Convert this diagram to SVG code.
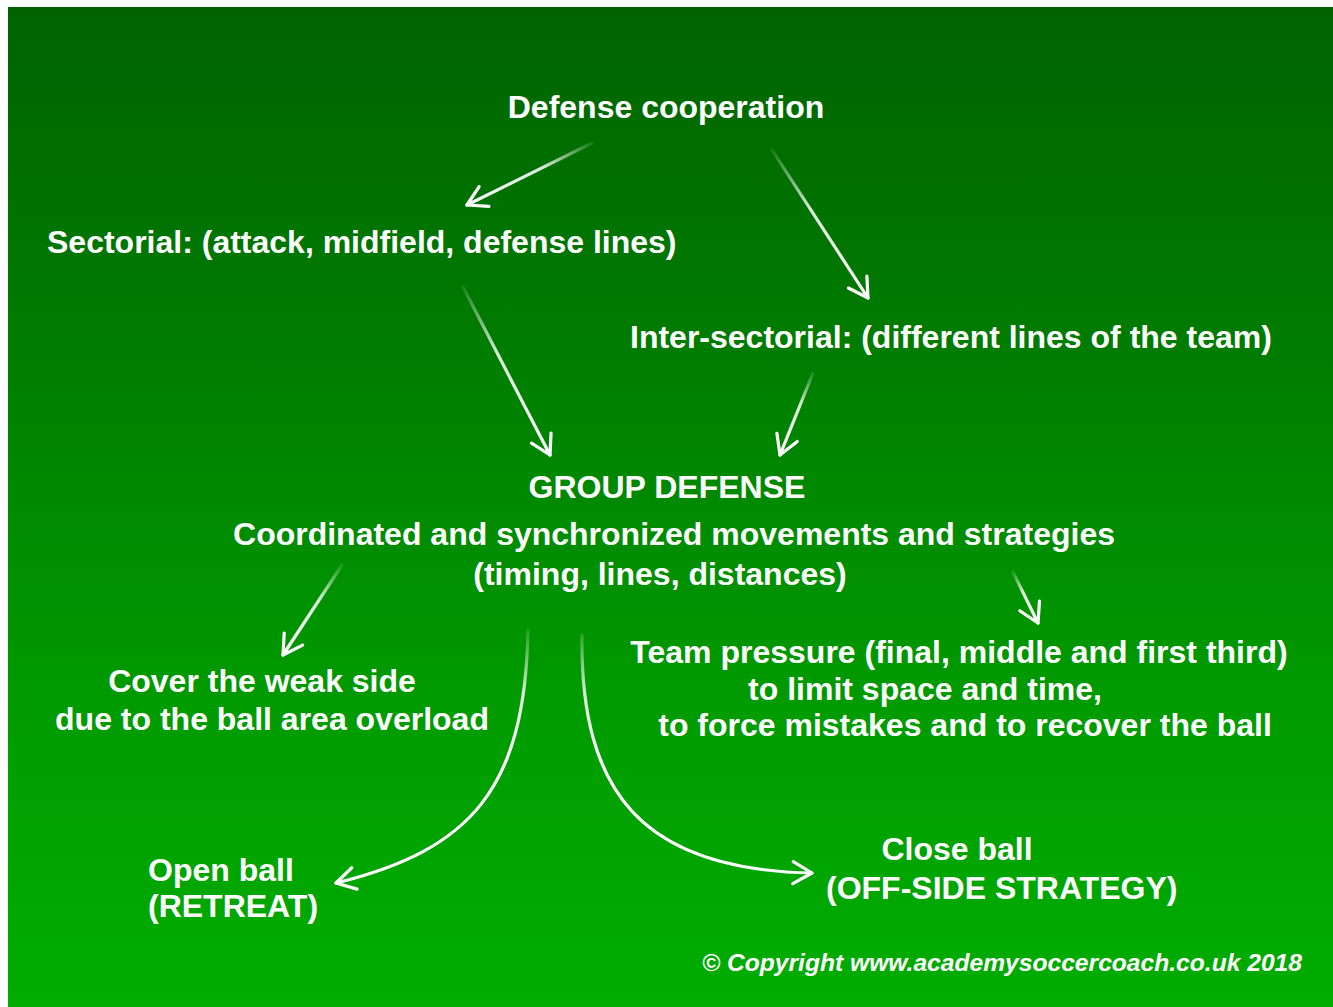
<svg xmlns="http://www.w3.org/2000/svg" width="1333" height="1007" viewBox="0 0 1333 1007">
<style>
.t{font-family:"Liberation Sans",Arial,sans-serif;font-weight:bold;font-size:32px;fill:#fff}
.m{text-anchor:middle}
.c{font-family:"Liberation Sans Narrow","Liberation Sans",Arial,sans-serif;font-weight:bold;font-style:italic;font-size:23px;fill:#fff}
.a{fill:none;stroke-width:3.2;stroke-linecap:round}
</style>
<defs>
<linearGradient id="bg" x1="0" y1="0" x2="0" y2="1">
<stop offset="0" stop-color="#006300"/>
<stop offset="0.35" stop-color="#007d00"/>
<stop offset="0.7" stop-color="#009b00"/>
<stop offset="1" stop-color="#00ad00"/>
</linearGradient>
<marker id="ah" markerUnits="userSpaceOnUse" markerWidth="30" markerHeight="30" viewBox="-24 -15 28 30" refX="0" refY="0" orient="auto">
<path d="M-19,-11 L0,0 L-19,11" fill="none" stroke="#fff" stroke-width="3.2" stroke-linecap="round" stroke-linejoin="round"/>
</marker>
<linearGradient id="g1" gradientUnits="userSpaceOnUse" x1="592" y1="143" x2="467" y2="205"><stop offset="0" stop-color="#fff" stop-opacity="0.1"/><stop offset="0.4" stop-color="#fff" stop-opacity="0.85"/><stop offset="1" stop-color="#fff"/></linearGradient>
<linearGradient id="g2" gradientUnits="userSpaceOnUse" x1="772" y1="150" x2="868" y2="298"><stop offset="0" stop-color="#fff" stop-opacity="0.1"/><stop offset="0.4" stop-color="#fff" stop-opacity="0.85"/><stop offset="1" stop-color="#fff"/></linearGradient>
<linearGradient id="g3" gradientUnits="userSpaceOnUse" x1="463" y1="287" x2="550" y2="455"><stop offset="0" stop-color="#fff" stop-opacity="0.1"/><stop offset="0.4" stop-color="#fff" stop-opacity="0.85"/><stop offset="1" stop-color="#fff"/></linearGradient>
<linearGradient id="g4" gradientUnits="userSpaceOnUse" x1="813" y1="373" x2="780" y2="455"><stop offset="0" stop-color="#fff" stop-opacity="0.1"/><stop offset="0.4" stop-color="#fff" stop-opacity="0.85"/><stop offset="1" stop-color="#fff"/></linearGradient>
<linearGradient id="g5" gradientUnits="userSpaceOnUse" x1="342" y1="565" x2="283" y2="655"><stop offset="0" stop-color="#fff" stop-opacity="0.1"/><stop offset="0.4" stop-color="#fff" stop-opacity="0.85"/><stop offset="1" stop-color="#fff"/></linearGradient>
<linearGradient id="g6" gradientUnits="userSpaceOnUse" x1="1013" y1="572" x2="1038" y2="623"><stop offset="0" stop-color="#fff" stop-opacity="0.1"/><stop offset="0.4" stop-color="#fff" stop-opacity="0.85"/><stop offset="1" stop-color="#fff"/></linearGradient>
<linearGradient id="g7" gradientUnits="userSpaceOnUse" x1="0" y1="628" x2="0" y2="760"><stop offset="0" stop-color="#fff" stop-opacity="0.1"/><stop offset="0.5" stop-color="#fff" stop-opacity="0.85"/><stop offset="1" stop-color="#fff"/></linearGradient>
</defs>
<rect x="0" y="0" width="1333" height="1007" fill="#fff"/>
<rect x="8" y="7" width="1325" height="1000" fill="url(#bg)"/>

<g id="connectors">
<path class="a" stroke="url(#g1)" d="M592,143 L467,205" marker-end="url(#ah)"/>
<path class="a" stroke="url(#g2)" d="M772,150 L868,298" marker-end="url(#ah)"/>
<path class="a" stroke="url(#g3)" d="M463,287 L550,455" marker-end="url(#ah)"/>
<path class="a" stroke="url(#g4)" d="M813,373 L780,455" marker-end="url(#ah)"/>
<path class="a" stroke="url(#g5)" d="M342,565 L283,655" marker-end="url(#ah)"/>
<path class="a" stroke="url(#g6)" d="M1013,572 L1038,623" marker-end="url(#ah)"/>
<path class="a" stroke="url(#g7)" d="M528,630 C525,790 470,850 336,883" marker-end="url(#ah)"/>
<path class="a" stroke="url(#g7)" d="M582,635 C580,790 640,870 812,873" marker-end="url(#ah)"/>
</g>

<g id="defense-cooperation"><text class="t m" x="666" y="118">Defense cooperation</text></g>
<g id="sectorial"><text class="t" x="47" y="253">Sectorial: (attack, midfield, defense lines)</text></g>
<g id="inter-sectorial"><text class="t" x="630" y="348">Inter-sectorial: (different lines of the team)</text></g>
<g id="group-defense">
<text class="t m" x="667" y="498">GROUP DEFENSE</text>
<text class="t m" x="674" y="545">Coordinated and synchronized movements and strategies</text>
<text class="t m" x="660" y="585">(timing, lines, distances)</text>
</g>
<g id="cover-weak-side">
<text class="t m" x="262" y="692">Cover the weak side</text>
<text class="t m" x="272" y="730">due to the ball area overload</text>
</g>
<g id="team-pressure">
<text class="t m" x="959" y="663">Team pressure (final, middle and first third)</text>
<text class="t m" x="925" y="700">to limit space and time,</text>
<text class="t m" x="965" y="736">to force mistakes and to recover the ball</text>
</g>
<g id="open-ball">
<text class="t" x="148" y="881">Open ball</text>
<text class="t" x="148" y="917">(RETREAT)</text>
</g>
<g id="close-ball">
<text class="t m" x="957" y="860">Close ball</text>
<text class="t" x="826" y="899">(OFF-SIDE STRATEGY)</text>
</g>
<g id="copyright"><text class="c" x="702" y="971" textLength="600" lengthAdjust="spacingAndGlyphs">© Copyright www.academysoccercoach.co.uk 2018</text></g>
</svg>
